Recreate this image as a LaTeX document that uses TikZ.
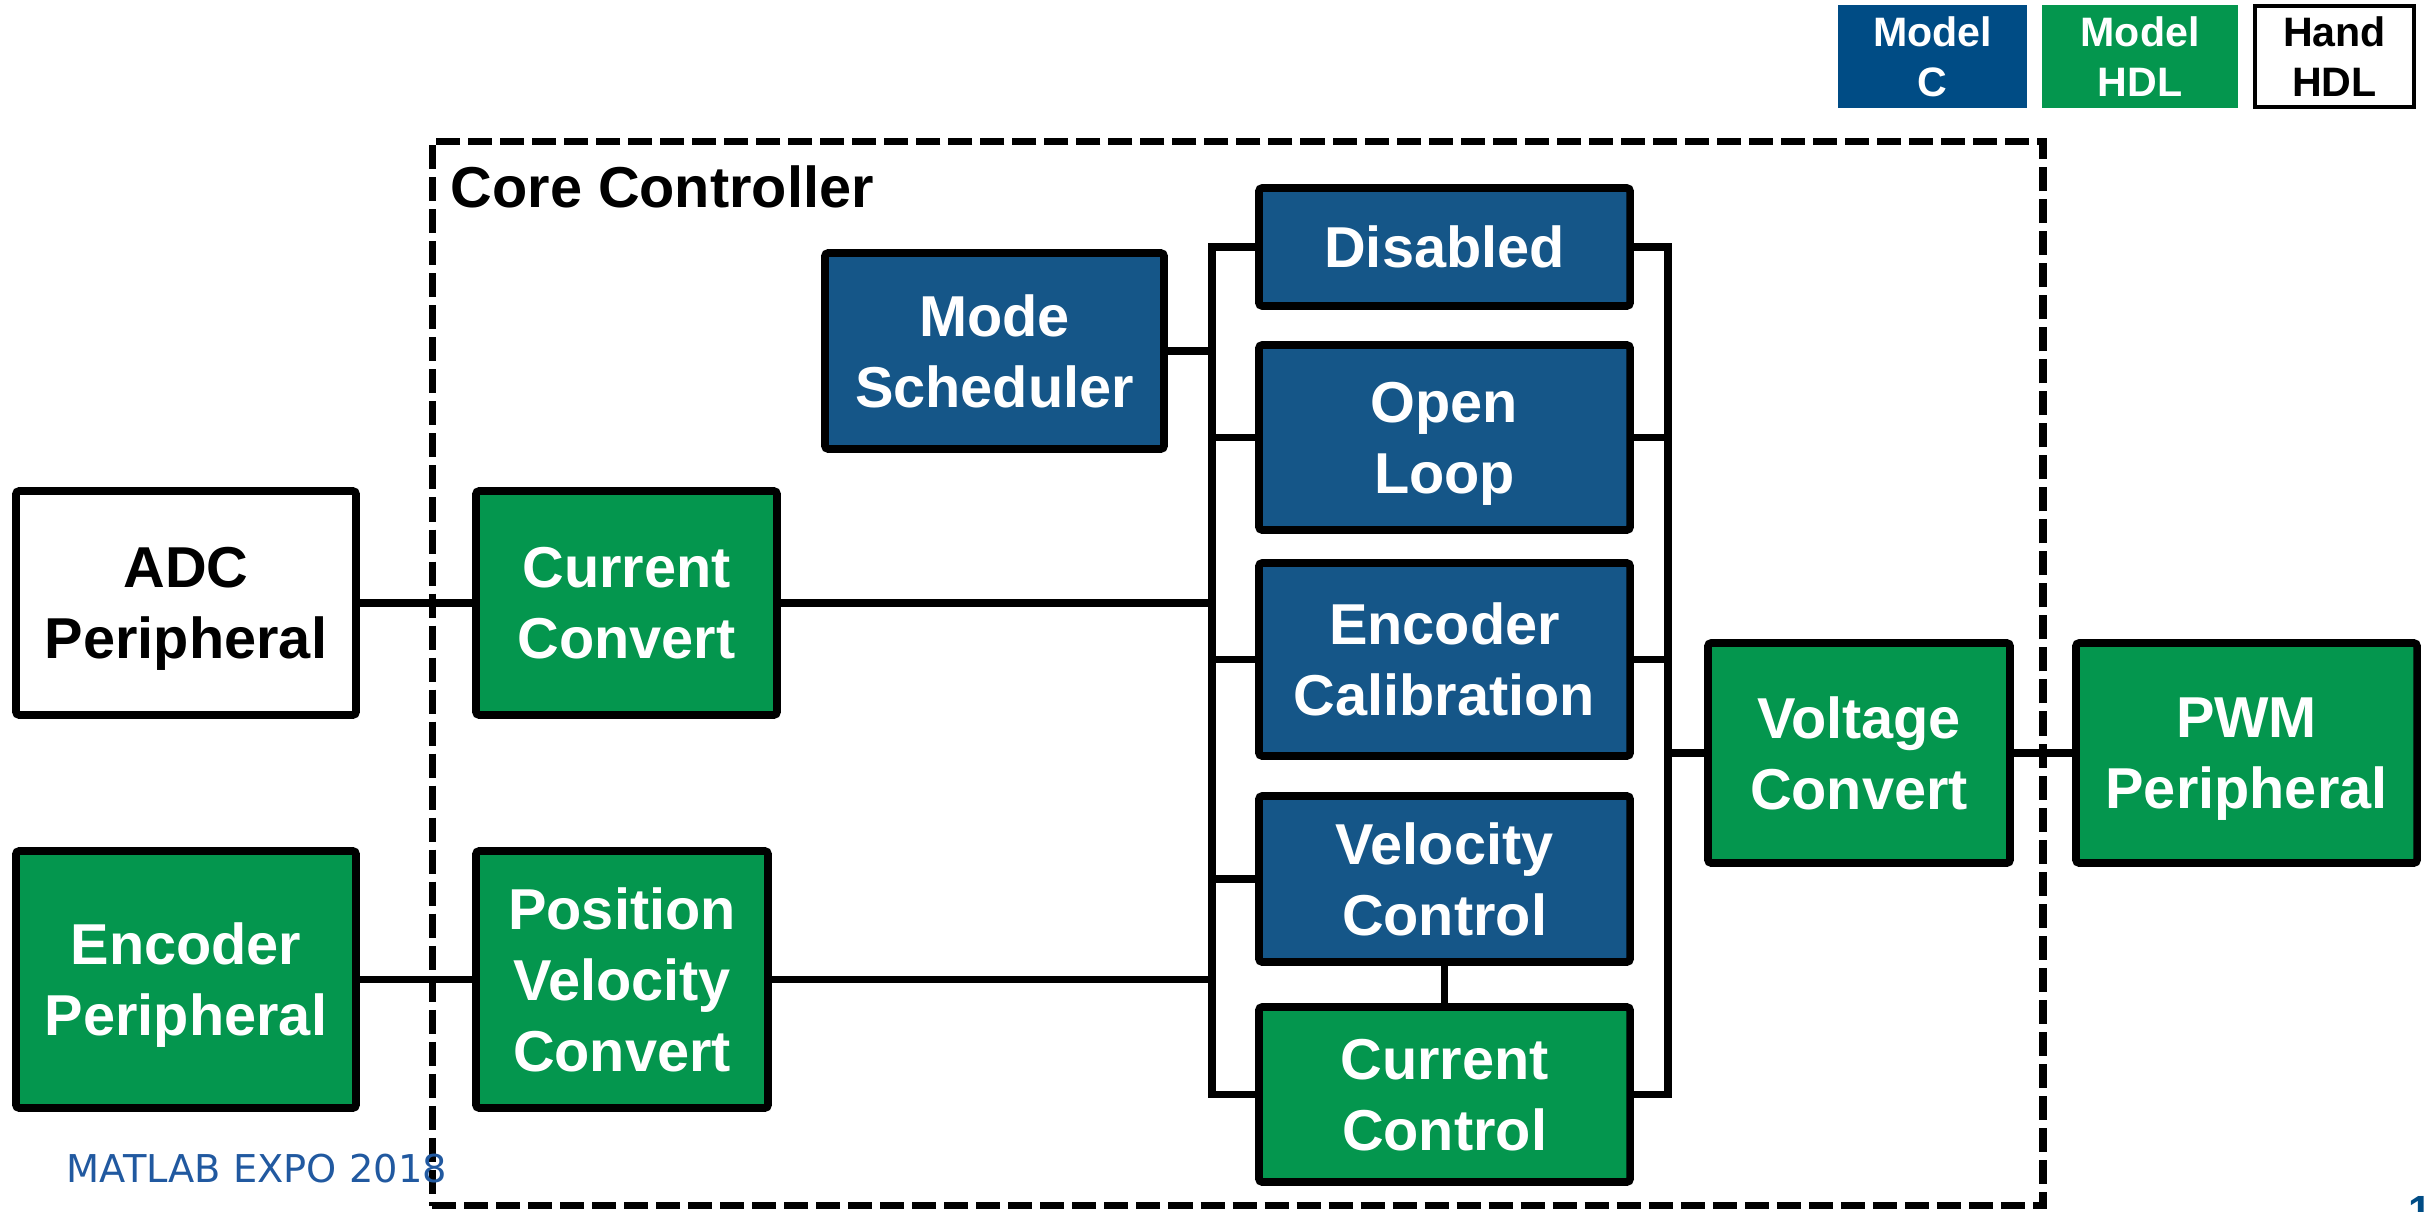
\documentclass[tikz,border=0pt]{standalone}
\usepackage{fontspec}
\setmainfont{Liberation Sans}
\newfontfamily\expofont{DejaVu Sans}
\definecolor{mblue}{RGB}{21,86,136}
\definecolor{lblue}{RGB}{0,76,133}
\definecolor{mgreen}{RGB}{4,150,78}
\definecolor{expoblue}{RGB}{33,89,160}
\tikzset{
  blk/.style={draw=black, line width=2.2pt, text=white, align=center, inner sep=0pt,
    text depth=0pt, rounded corners=1pt, font=\bfseries\fontsize{16.4}{20.2}\selectfont},
  bluebox/.style={blk, fill=mblue},
  greenbox/.style={blk, fill=mgreen},
  whitebox/.style={blk, fill=white, text=black},
  wire/.style={line width=2.2pt},
  legendbox/.style={inner sep=0pt, align=center, text depth=0pt, font=\bfseries\fontsize{11.7}{14.2}\selectfont},
  corebox/.style={draw=black, line width=2pt, dash pattern=on 0.24cm off 0.08cm, inner sep=0pt}
}
\begin{document}
\begin{tikzpicture}[x=0.01cm, y=-0.01cm]
\useasboundingbox (0,0) rectangle (2427,1212);

% core controller boundary
\node[corebox, minimum width=16.10cm, minimum height=10.64cm] (core) at (1237.5,673.5) {};
\node[anchor=base west, inner sep=0pt, font=\bfseries\fontsize{16.4}{20.2}\selectfont] (corelbl) at (450,207) {Core Controller};

% legend
\node[legendbox, fill=lblue, text=white, minimum width=1.89cm, minimum height=1.03cm] (lgc) at (1932.5,56.5) {Model\\C};
\node[legendbox, fill=mgreen, text=white, minimum width=1.96cm, minimum height=1.03cm] (lgm) at (2140,56.5) {Model\\HDL};
\node[legendbox, draw=black, line width=1.2pt, fill=white, text=black, minimum width=1.59cm, minimum height=1.01cm] (lgh) at (2334.5,56.5) {Hand\\HDL};

% blocks
\node[whitebox, minimum width=3.40cm, minimum height=2.24cm] (adc) at (186,603) {ADC\\Peripheral};
\node[greenbox, minimum width=3.01cm, minimum height=2.24cm] (ccv) at (626.5,603) {Current\\Convert};
\node[greenbox, minimum width=3.40cm, minimum height=2.57cm] (encp) at (186,979.5) {Encoder\\Peripheral};
\node[greenbox, minimum width=2.92cm, minimum height=2.57cm] (pvc) at (622,979.5) {Position\\Velocity\\Convert};
\node[bluebox, minimum width=3.39cm, minimum height=1.96cm] (mode) at (994.5,351) {Mode\\Scheduler};
\node[bluebox, minimum width=3.71cm, minimum height=1.18cm] (dis) at (1444.5,247) {Disabled};
\node[bluebox, minimum width=3.71cm, minimum height=1.85cm] (ol) at (1444.5,437.5) {Open\\Loop};
\node[bluebox, minimum width=3.71cm, minimum height=1.93cm] (ecal) at (1444.5,659.5) {Encoder\\Calibration};
\node[bluebox, minimum width=3.71cm, minimum height=1.66cm] (vel) at (1444.5,879) {Velocity\\Control};
\node[greenbox, minimum width=3.71cm, minimum height=1.75cm] (cur) at (1444.5,1094.5) {Current\\Control};
\node[greenbox, minimum width=3.02cm, minimum height=2.20cm] (vcv) at (1859,753) {Voltage\\Convert};
\node[greenbox, minimum width=3.41cm, minimum height=2.20cm] (pwm) at (2246.5,753) {PWM\\Peripheral};

% buses
\coordinate (lbus) at (1212,650);
\coordinate (rbus) at (1668,650);

% connectors
\draw[wire] (adc.east) -- (ccv.west);
\draw[wire] (encp.east) -- (pvc.west);
\draw[wire] (dis.west) -| (lbus) |- (cur.west);
\draw[wire] (mode.east) -- (mode.east -| lbus);
\draw[wire] (ccv.east) -- (ccv.east -| lbus);
\draw[wire] (pvc.east) -- (pvc.east -| lbus);
\draw[wire] (ol.west) -- (ol.west -| lbus);
\draw[wire] (ecal.west) -- (ecal.west -| lbus);
\draw[wire] (vel.west) -- (vel.west -| lbus);
\draw[wire] (dis.east) -| (rbus) |- (cur.east);
\draw[wire] (ol.east) -- (ol.east -| rbus);
\draw[wire] (ecal.east) -- (ecal.east -| rbus);
\draw[wire] (vcv.west -| rbus) -- (vcv.west);
\draw[wire] (vel.south) -- (cur.north);
\draw[wire] (vcv.east) -- (pwm.west);

% footer
\node[anchor=base west, inner sep=0pt, text=expoblue, font=\expofont\fontsize{10.9}{13}\selectfont] (expo) at (66,1182) {MATLAB EXPO 2018};
\node[anchor=base west, inner sep=0pt, text=lblue, font=\bfseries\fontsize{12}{14}\selectfont] (pg) at (2408,1225) {1};
\end{tikzpicture}
\end{document}
